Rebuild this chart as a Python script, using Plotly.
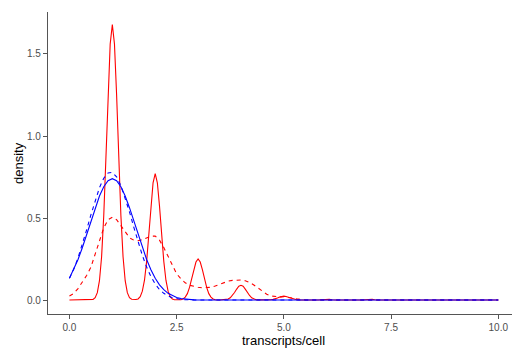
import plotly.graph_objects as go

# ---- data ----
red_solid_x = [0, 0.45, 0.5, 0.55, 0.6, 0.65, 0.7, 0.75, 0.8, 0.85, 0.9, 0.95, 1.0, 1.05, 1.1, 1.15, 1.2,
               1.25, 1.3, 1.35, 1.4, 1.45, 1.5, 1.55, 1.6, 1.65, 1.7, 1.75, 1.8, 1.85, 1.9, 1.95, 2.0,
               2.05, 2.1, 2.15, 2.2, 2.25, 2.3, 2.35, 2.4, 2.45, 2.5, 2.55, 2.6, 2.65, 2.7, 2.75, 2.8,
               2.85, 2.9, 2.95, 3.0, 3.05, 3.1, 3.15, 3.2, 3.25, 3.3, 3.35, 3.4, 3.5, 3.6, 3.65, 3.7,
               3.75, 3.8, 3.85, 3.9, 3.95, 4.0, 4.05, 4.1, 4.15, 4.2, 4.25, 4.3, 4.35, 4.4, 4.5, 4.65,
               4.7, 4.75, 4.8, 4.85, 4.9, 4.95, 5.0, 5.05, 5.1, 5.15, 5.2, 5.25, 5.3, 5.35, 5.5, 5.8,
               5.88, 5.94, 6.0, 6.06, 6.12, 6.2, 6.8, 6.88, 6.94, 7.0, 7.06, 7.12, 7.2, 10.0]
red_solid_y = [0, 0, 0.001, 0.004, 0.015, 0.045, 0.118, 0.264, 0.514, 0.864, 1.25, 1.56, 1.68, 1.56, 1.25,
               0.864, 0.514, 0.264, 0.118, 0.045, 0.015, 0.005, 0.002, 0.003, 0.007, 0.021, 0.054, 0.121,
               0.236, 0.396, 0.573, 0.715, 0.77, 0.715, 0.573, 0.396, 0.236, 0.121, 0.054, 0.021, 0.007,
               0.002, 0.001, 0.001, 0.002, 0.007, 0.018, 0.039, 0.077, 0.129, 0.186, 0.232, 0.25, 0.232,
               0.186, 0.129, 0.077, 0.039, 0.018, 0.007, 0.002, 0.0, 0.001, 0.002, 0.006, 0.014, 0.028,
               0.046, 0.067, 0.084, 0.09, 0.084, 0.067, 0.046, 0.028, 0.014, 0.006, 0.002, 0.001, 0.0,
               0.001, 0.002, 0.004, 0.007, 0.012, 0.018, 0.022, 0.024, 0.022, 0.018, 0.012, 0.007, 0.004,
               0.002, 0.001, 0.0, 0.0, 0.002, 0.004, 0.005, 0.004, 0.002, 0.0, 0.0, 0.002, 0.004, 0.005,
               0.004, 0.002, 0.0, 0.0]

red_dash_x = [0, 0.1, 0.2, 0.3, 0.4, 0.5, 0.6, 0.7, 0.8, 0.9, 1.0, 1.1, 1.2, 1.3, 1.4, 1.5, 1.6, 1.7, 1.8,
              1.9, 2.0, 2.1, 2.2, 2.3, 2.4, 2.5, 2.6, 2.7, 2.8, 2.9, 3.0, 3.1, 3.2, 3.3, 3.4, 3.5, 3.6,
              3.7, 3.8, 3.9, 4.0, 4.1, 4.2, 4.3, 4.4, 4.5, 4.6, 4.7, 4.8, 4.9, 5.0, 5.1, 5.2, 5.3, 5.4,
              5.5, 5.6, 10.0]
red_dash_y = [0.025, 0.04, 0.07, 0.11, 0.15, 0.2, 0.28, 0.36, 0.44, 0.49, 0.505, 0.49, 0.455, 0.415, 0.38,
              0.365, 0.362, 0.368, 0.38, 0.39, 0.39, 0.365, 0.32, 0.265, 0.205, 0.16, 0.13, 0.105, 0.09,
              0.082, 0.078, 0.075, 0.075, 0.078, 0.086, 0.097, 0.107, 0.115, 0.12, 0.123, 0.122, 0.118,
              0.108, 0.092, 0.072, 0.052, 0.036, 0.025, 0.02, 0.019, 0.02, 0.018, 0.012, 0.007, 0.003,
              0.001, 0.0, 0.0]

blue_solid_x = [0, 0.1, 0.2, 0.3, 0.4, 0.5, 0.6, 0.7, 0.8, 0.9, 1.0, 1.1, 1.2, 1.3, 1.4, 1.5, 1.6, 1.7,
                1.8, 1.9, 2.0, 2.1, 2.2, 2.3, 2.4, 2.5, 2.6, 2.7, 2.8, 2.9, 3.0, 10.0]
blue_solid_y = [0.133, 0.185, 0.247, 0.319, 0.399, 0.482, 0.563, 0.634, 0.691, 0.727, 0.74, 0.727, 0.691,
                0.634, 0.563, 0.482, 0.399, 0.319, 0.247, 0.185, 0.133, 0.093, 0.063, 0.041, 0.026,
                0.016, 0.009, 0.005, 0.003, 0.001, 0.0, 0.0]

blue_dash_x = [0, 0.1, 0.2, 0.3, 0.4, 0.5, 0.6, 0.7, 0.8, 0.9, 1.0, 1.1, 1.2, 1.3, 1.4, 1.5, 1.6, 1.7,
               1.8, 1.9, 2.0, 2.1, 2.2, 2.3, 2.4, 2.5, 2.6, 2.7, 2.8, 3.0, 10.0]
blue_dash_y = [0.133, 0.188, 0.257, 0.338, 0.427, 0.519, 0.608, 0.685, 0.743, 0.775, 0.778, 0.751, 0.698,
               0.624, 0.538, 0.445, 0.355, 0.272, 0.201, 0.143, 0.098, 0.064, 0.041, 0.025, 0.0145,
               0.008, 0.004, 0.002, 0.001, 0.0, 0.0]

x_ticks = [0, 2.5, 5, 7.5, 10]
x_tick_labels = ["0.0", "2.5", "5.0", "7.5", "10.0"]
y_ticks = [0, 0.5, 1.0, 1.5]
y_tick_labels = ["0.0", "0.5", "1.0", "1.5"]

RED = "#FF0000"
BLUE = "#0000FF"
FONT = "Liberation Sans, Arial, sans-serif"

fig = go.Figure()
fig.add_trace(go.Scatter(x=red_solid_x, y=red_solid_y, mode="lines",
                         line=dict(color=RED, width=1.1)))
fig.add_trace(go.Scatter(x=red_dash_x, y=red_dash_y, mode="lines",
                         line=dict(color=RED, width=1.1, dash="4px,4px")))
fig.add_trace(go.Scatter(x=blue_solid_x, y=blue_solid_y, mode="lines",
                         line=dict(color=BLUE, width=1.1)))
fig.add_trace(go.Scatter(x=blue_dash_x, y=blue_dash_y, mode="lines",
                         line=dict(color=BLUE, width=1.1, dash="4px,4px")))

axis_common = dict(showgrid=False, zeroline=False, showline=True, linecolor="#555555", linewidth=1.3,
                   ticks="outside", ticklen=4, tickwidth=1.1, tickcolor="#555555",
                   tickfont=dict(family=FONT, size=10, color="#4D4D4D"), mirror=False)

fig.update_layout(
    width=515, height=348,
    margin=dict(l=48, r=3, t=12, b=34, autoexpand=False),
    paper_bgcolor="white", plot_bgcolor="white",
    showlegend=False,
    xaxis=dict(range=[-0.5, 10.32], tickvals=x_ticks, ticktext=x_tick_labels, **axis_common),
    yaxis=dict(range=[-0.085, 1.756], tickvals=y_ticks, ticktext=y_tick_labels, **axis_common),
    annotations=[
        dict(text="transcripts/cell", xref="paper", yref="paper", x=(283 - 48) / 464, y=0,
             xanchor="center", yanchor="middle", yshift=-26, showarrow=False,
             font=dict(family=FONT, size=13, color="black")),
        dict(text="density", xref="paper", yref="paper", x=0, y=0.5, xshift=-30,
             xanchor="center", yanchor="middle", textangle=-90, showarrow=False,
             font=dict(family=FONT, size=13, color="black")),
    ],
)

fig.write_html("out.html", config={"displayModeBar": False},
               post_script="document.body.style.margin='0';document.body.style.padding='0';")
